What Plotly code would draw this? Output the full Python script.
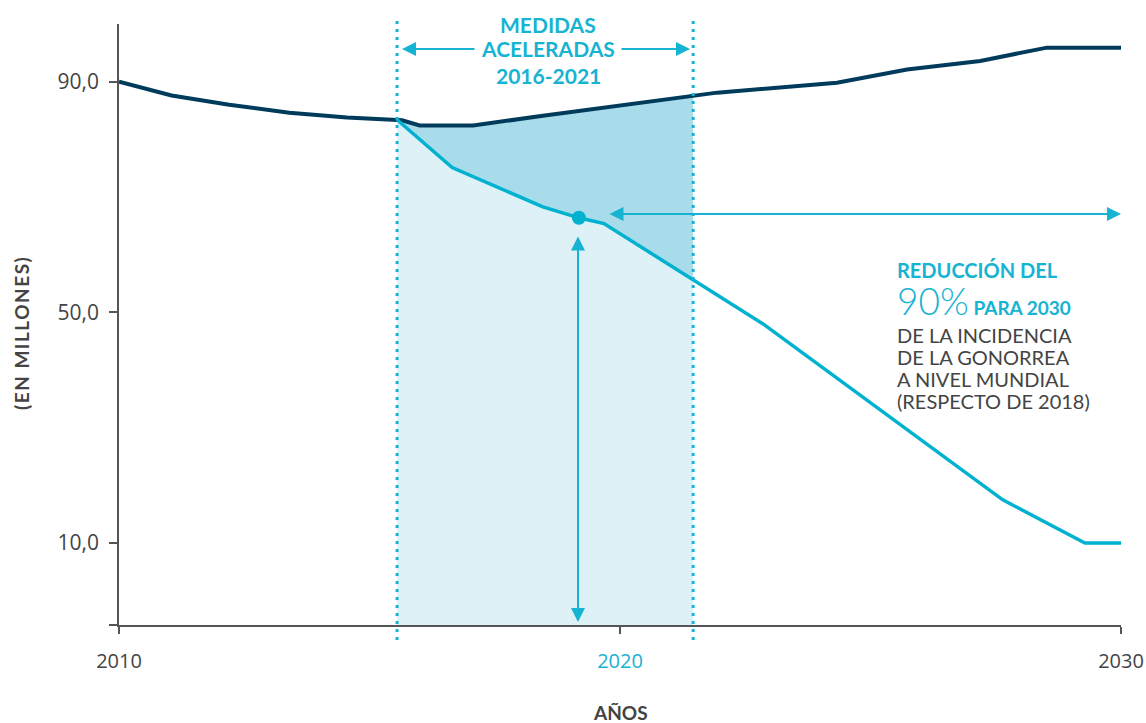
import plotly.graph_objects as go

# ---------------- data ----------------
years_dark = [2010, 2011.05, 2012.2, 2013.4, 2014.55, 2015.55, 2015.65, 2016.0, 2017.07,
              2018.46, 2021.46, 2021.94, 2024.33, 2025.73, 2027.19, 2028.52, 2030]
cases_dark = [90.0, 87.6, 86.0, 84.6, 83.8, 83.4, 83.3, 82.4, 82.4,
              84.1, 87.4, 88.1, 89.8, 92.1, 93.6, 95.9, 95.9]

years_target = [2015.55, 2016.65, 2018.46, 2019.18, 2019.68, 2021.46, 2022.89, 2027.64, 2029.28, 2030]
cases_target = [83.4, 75.1, 68.3, 66.4, 65.4, 55.6, 47.8, 17.5, 10.0, 10.0]

period = [2015.55, 2021.46]           # accelerated measures
marker_year, marker_value = 2019.18, 66.4
y_ticks = [10, 50, 90]
y_ticklabels = ["10,0", "50,0", "90,0"]
x_ticks = [2010, 2020, 2030]
x_ticklabels = ["2010", "<span style='color:#16b3d2'>2020</span>", "2030"]

Y_MIN, Y_MAX = -4.2, 100.0
X_MIN, X_MAX = 2010, 2030

NAVY = "#003b5c"
CYAN = "#00b2cf"
CYAN_T = "#16b3d2"
GRAY = "#444444"
FILL_DARK = "#a8dcea"
FILL_LIGHT = "#ddf1f7"

W, H = 1146, 723
ML, MR, MT, MB = 119, 25, 24, 98
PW, PH = W - ML - MR, H - MT - MB


def px(xp):
    return (xp - ML) / PW


def py(yp):
    return (H - MB - yp) / PH


def seg(xs, ys, a, b):
    pts = [(x, y) for x, y in zip(xs, ys) if a - 1e-9 <= x <= b + 1e-9]
    return [p[0] for p in pts], [p[1] for p in pts]


fig = go.Figure()

# fills
lx, ly = seg(years_target, cases_target, *period)
dx, dy = seg(years_dark, cases_dark, *period)
fig.add_trace(go.Scatter(x=[period[0], period[1]], y=[Y_MIN, Y_MIN], mode="lines",
                         line=dict(width=0, color=FILL_LIGHT), hoverinfo="skip", showlegend=False))
fig.add_trace(go.Scatter(x=lx, y=ly, mode="lines", fill="tonexty", fillcolor=FILL_LIGHT,
                         line=dict(width=0, color=FILL_LIGHT), hoverinfo="skip", showlegend=False))
fig.add_trace(go.Scatter(x=dx, y=dy, mode="lines", fill="tonexty", fillcolor=FILL_DARK,
                         line=dict(width=0, color=FILL_DARK), hoverinfo="skip", showlegend=False))

# lines
fig.add_trace(go.Scatter(x=years_dark, y=cases_dark, mode="lines",
                         line=dict(width=4, color=NAVY), hoverinfo="skip", showlegend=False))
fig.add_trace(go.Scatter(x=years_target, y=cases_target, mode="lines",
                         line=dict(width=3.5, color=CYAN), hoverinfo="skip", showlegend=False))
fig.add_trace(go.Scatter(x=[marker_year], y=[marker_value], mode="markers",
                         marker=dict(size=14, color=CYAN), hoverinfo="skip", showlegend=False))

# vertical dotted lines
for xv_ in period:
    fig.add_shape(type="line", xref="x", yref="paper", x0=xv_, x1=xv_, y0=py(640), y1=py(20),
                  line=dict(color=CYAN_T, width=3, dash="3px,5px"), layer="above")

annotations = []
AFONT = "Lato"


def arrow(x_head, y_head, x_tail, y_tail, both=False):
    annotations.append(dict(x=x_head, y=y_head, ax=x_tail, ay=y_tail, xref="x", yref="y",
                            axref="x", ayref="y", text="", showarrow=True, arrowhead=2,
                            arrowsize=1.4, arrowwidth=2, arrowcolor=CYAN_T,
                            arrowside="end+start" if both else "end", startarrowhead=2,
                            startarrowsize=1.4, standoff=0, startstandoff=0))


def xv(p):
    return X_MIN + (p - ML) / PW * (X_MAX - X_MIN)


def yv(p):
    return Y_MIN + (H - MB - p) / PH * (Y_MAX - Y_MIN)


# top arrows
arrow(xv(402), yv(49), xv(476), yv(49))
arrow(xv(690), yv(49), xv(620), yv(49))
# horizontal reduction arrow
arrow(xv(1121), yv(214), xv(608), yv(214), both=True)
# vertical arrow
arrow(xv(578), yv(622), xv(578), yv(235), both=True)

# top text
for t, yp in [("MEDIDAS", 24), ("ACELERADAS", 49), ("2016-2021", 75)]:
    annotations.append(dict(x=px(548), y=py(yp), xref="paper", yref="paper", text=f"<b>{t}</b>",
                            showarrow=False, xanchor="center", yanchor="middle",
                            font=dict(family=AFONT, size=21, color=CYAN_T)))

# right text
annotations.append(dict(x=px(895), y=py(270), xref="paper", yref="paper", text="<b>REDUCCIÓN DEL</b>",
                        showarrow=False, xanchor="left", yanchor="middle",
                        font=dict(family=AFONT, size=20, color=CYAN_T)))
annotations.append(dict(x=px(895), y=py(300), xref="paper", yref="paper",
                        text="<span style='font-size:37px;font-weight:300'>90%</span><b> PARA 2030</b>",
                        showarrow=False, xanchor="left", yanchor="middle",
                        font=dict(family=AFONT, size=19, color=CYAN_T)))
for t, yp in [("DE LA INCIDENCIA", 335), ("DE LA GONORREA", 357),
              ("A NIVEL MUNDIAL", 379), ("(RESPECTO DE 2018)", 401)]:
    annotations.append(dict(x=px(895), y=py(yp), xref="paper", yref="paper", text=t,
                            showarrow=False, xanchor="left", yanchor="middle",
                            font=dict(family=AFONT, size=20, color=GRAY)))

# axis titles
annotations.append(dict(x=px(620), y=py(712), xref="paper", yref="paper", text="<b>AÑOS</b>",
                        showarrow=False, xanchor="center", yanchor="middle",
                        font=dict(family=AFONT, size=19, color=GRAY)))
annotations.append(dict(x=px(21), y=py(333), xref="paper", yref="paper",
                        text="<b><span style='letter-spacing:1.5px'>(EN MILLONES)</span></b>",
                        showarrow=False, xanchor="center", yanchor="middle", textangle=-90,
                        font=dict(family=AFONT, size=19, color=GRAY)))

fig.update_layout(
    width=W, height=H,
    margin=dict(l=ML, r=MR, t=MT, b=MB, pad=0, autoexpand=False),
    paper_bgcolor="white", plot_bgcolor="white",
    annotations=annotations,
    showlegend=False,
    xaxis=dict(range=[X_MIN, X_MAX], tickvals=x_ticks, ticktext=x_ticklabels, automargin=False,
               showgrid=False, zeroline=False, showline=True, linecolor="#555555", linewidth=1.5,
               ticks="outside", ticklen=7, tickwidth=1.5, tickcolor="#555555",
               tickfont=dict(family="Open Sans", size=20, color=GRAY), ticklabelstandoff=10),
    yaxis=dict(range=[Y_MIN, Y_MAX], tickvals=[Y_MIN] + y_ticks, ticktext=[""] + y_ticklabels,
               automargin=False,
               showgrid=False, zeroline=False, showline=True, linecolor="#555555", linewidth=1.5,
               ticks="outside", ticklen=8, tickwidth=1.5, tickcolor="#555555",
               tickfont=dict(family="Open Sans", size=21, color=GRAY), ticklabelstandoff=6),
)

fig.write_html("out.html", config={"displayModeBar": False},
               post_script="document.body.style.margin='0';")
